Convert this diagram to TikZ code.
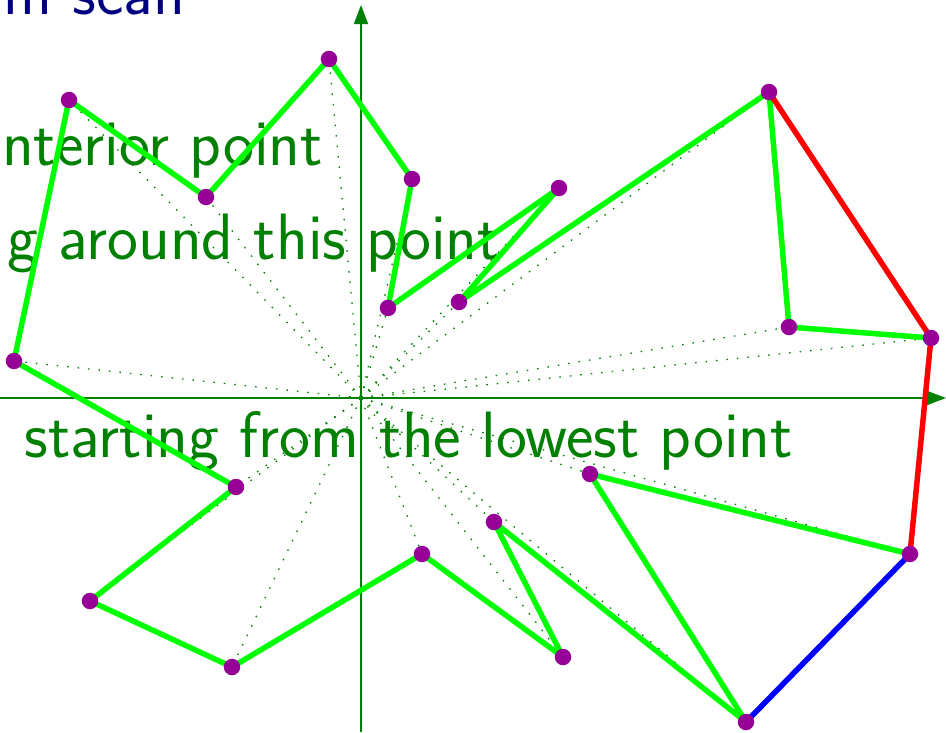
\documentclass[tikz,border=0pt]{standalone}
\usepackage{fontspec}
\usetikzlibrary{arrows.meta}
\definecolor{txtgreen}{RGB}{0,128,0}
\definecolor{titleblue}{RGB}{0,0,128}
\definecolor{dotpurple}{RGB}{150,0,150}
\definecolor{polygreen}{RGB}{0,255,0}
\tikzset{
  bodytext/.style={text=txtgreen,font=\sffamily\fontsize{65.6}{78}\selectfont,inner sep=0pt},
  titletext/.style={text=titleblue,font=\sffamily\fontsize{65.6}{78}\selectfont,inner sep=0pt},
  axis/.style={draw=txtgreen,line width=1.4pt,-{Triangle[length=19pt,width=14pt]}},
  ray/.style={draw=txtgreen,line width=1.3pt,dash pattern=on 1.5pt off 9pt},
  edge/.style={draw=polygreen,line width=5.5pt,line cap=round,line join=round},
  hulledge/.style={line width=5.5pt,line cap=round,line join=round},
  pt/.style={circle,fill=dotpurple,inner sep=0pt,minimum size=16.5pt},
}
\begin{document}
\begin{tikzpicture}[x=1pt,y=1pt]
\useasboundingbox (-361,-334) rectangle (585,398);
% texts
\node[titletext,anchor=base east] (title) at (-176,383) {m scan};
\node[bodytext,anchor=base east] (t1) at (-38,233) {nterior point};
\node[bodytext,anchor=base east] (t2) at (139,139) {g around this point};
\node[bodytext,anchor=base east] (t3) at (432,-59) {starting from the lowest point};
% axes
\coordinate (O) at (0,0);
\coordinate (xl) at (-361,0);
\coordinate (xr) at (585,0);
\coordinate (yb) at (0,-334);
\coordinate (yt) at (0,393);
\draw[axis] (xl) -- (xr);
\draw[axis] (yb) -- (yt);
% points
\coordinate (p1) at (-292,298);
\coordinate (p2) at (-155,201);
\coordinate (p3) at (-32,339);
\coordinate (p4) at (51,219);
\coordinate (p5) at (27,90);
\coordinate (p6) at (198,210);
\coordinate (p7) at (98,96);
\coordinate (p8) at (408,306);
\coordinate (p9) at (428,71);
\coordinate (p10) at (570,60);
\coordinate (p11) at (549,-156);
\coordinate (p12) at (385,-324);
\coordinate (p13) at (229,-76);
\coordinate (p14) at (133,-124);
\coordinate (p15) at (202,-259);
\coordinate (p16) at (61,-156);
\coordinate (p17) at (-129,-269);
\coordinate (p18) at (-271,-203);
\coordinate (p19) at (-125,-89);
\coordinate (p20) at (-347,37);
% rays
\foreach \i in {1,...,20} {\draw[ray] (O) -- (p\i);}
\node[circle,fill=txtgreen,inner sep=0pt,minimum size=5pt] (center) at (O) {};
% polygon
\draw[edge] (p15) -- (p14) -- (p12) -- (p13) -- (p11);
\draw[edge] (p9) -- (p8) -- (p7) -- (p6) -- (p5) -- (p4) -- (p3) -- (p2) -- (p1) -- (p20) -- (p19) -- (p18) -- (p17) -- (p16) -- (p15);
\draw[edge] (p10) -- (p9);
% hull
\draw[hulledge,red] (p8) -- (p10) -- (p11);
\draw[hulledge,blue] (p11) -- (p12);
% dots
\foreach \i in {1,...,20} {\node[pt] (d\i) at (p\i) {};}
\end{tikzpicture}
\end{document}
